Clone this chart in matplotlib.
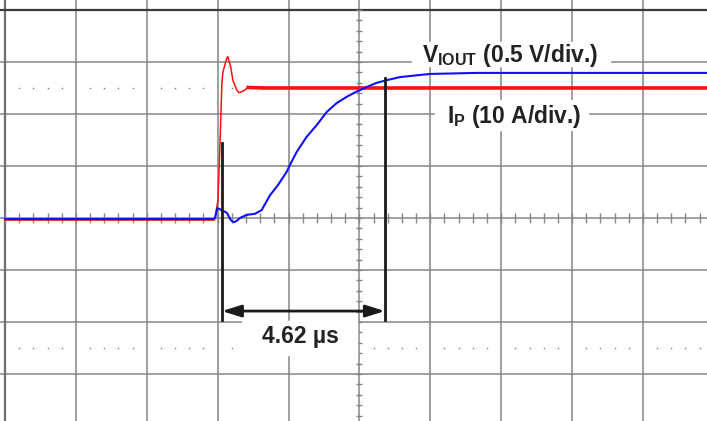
import numpy as np
import matplotlib.pyplot as plt
import matplotlib as mpl
from matplotlib.patches import Rectangle

mpl.rcParams.update({
    "font.family": "Liberation Sans",
    "mathtext.fontset": "custom",
    "mathtext.rm": "Liberation Sans",
    "mathtext.bf": "Liberation Sans:bold",
})

# --- data: time in us (2 us/div), amplitude in divisions ---
red_t = [0.0, 5.90, 5.95, 6.01, 6.07, 6.12, 6.15, 6.26, 6.29, 6.37, 6.43, 6.54,
         6.60, 6.72, 6.86, 7.28, 19.81]
red_y = [-0.04, -0.04, 0.10, 0.35, 1.50, 2.60, 2.81, 3.08, 3.10, 2.90, 2.65, 2.46,
         2.41, 2.44, 2.51, 2.50, 2.50]

blue_t = [0.0, 5.90, 5.93, 5.99, 6.12, 6.26, 6.37, 6.45, 6.53, 6.63, 6.82, 7.05,
          7.24, 7.48, 7.70, 7.95, 8.04, 8.23, 8.51, 8.80, 9.08, 9.36, 9.64, 9.92,
          10.21, 10.49, 10.77, 11.15, 11.99, 13.32, 19.81]
blue_y = [-0.02, -0.02, 0.0, 0.19, 0.15, 0.10, -0.04, -0.08, -0.06, 0.0, 0.06, 0.08,
          0.15, 0.44, 0.63, 0.89, 1.02, 1.27, 1.56, 1.79, 2.04, 2.21, 2.33, 2.43,
          2.52, 2.60, 2.65, 2.71, 2.77, 2.79, 2.79]

cursor_t = [6.12, 10.72]
cursor_top = [1.44, 2.69]
cursor_bottom = -1.96
delta_label = "4.62 µs"
v_label = r"$\mathbf{V_{IOUT}}$ (0.5 V/div.)"
i_label = r"$\mathbf{I_{P}}$ (10 A/div.)"

fig = plt.figure(figsize=(7.07, 4.21), dpi=100)
ax = fig.add_axes([0, 0, 1, 1])
ax.set_xlim(-5 / 35.44, 702 / 35.44)
ax.set_ylim(-3.904, 4.192)
ax.axis("off")

grid = "#858585"
# graticule
for x in np.arange(2, 21, 2):
    ax.axvline(x, color=grid, lw=1.1, zorder=1)
for y in np.arange(-4, 4, 1):
    ax.axhline(y, color=grid, lw=1.1, zorder=1)
ax.axvline(0, color="#6e6e6e", lw=1.6, zorder=1)
ax.axhline(4, color="#3c3c3c", lw=1.6, zorder=1)

# center-axis ticks
minor_x = np.arange(0, 20.01, 0.4)
minor_y = np.arange(-4, 4.01, 0.2)
ax.plot(minor_x, np.zeros_like(minor_x), ls="none", marker="|", ms=6.5,
        mew=1.0, color=grid, zorder=1)
ax.plot(np.full_like(minor_y, 10), minor_y, ls="none", marker="_", ms=5,
        mew=1.0, color=grid, zorder=1)

# dotted reference rows
dots_x = np.array([x for x in minor_x if abs(x / 2 - round(x / 2)) > 1e-6])
for yy in (2.5, -2.5):
    ax.plot(dots_x, np.full_like(dots_x, yy), ls="none", marker="s", ms=1.0,
            mew=0, color="#7a7a7a", zorder=1)

# traces
red_t = np.array(red_t)
red_y = np.array(red_y)
ax.plot(red_t, red_y, color="#ff1010", lw=1.1, zorder=3)
settled = red_t >= 6.86
ax.plot(red_t[settled], red_y[settled], color="#ff1010", lw=2.6, zorder=3)
ax.plot(blue_t, blue_y, color="#1010ff", lw=1.5, zorder=4)

# cursors
for ct, top in zip(cursor_t, cursor_top):
    ax.plot([ct, ct], [cursor_bottom, top], color="#1a1a1a", lw=2.0, zorder=5)
ax.annotate("", xy=(cursor_t[0], -1.79), xytext=(cursor_t[1], -1.79),
            arrowprops=dict(arrowstyle="<|-|>,head_length=1.15,head_width=0.36",
                            mutation_scale=10, color="#1a1a1a", lw=2.0,
                            shrinkA=0, shrinkB=0), zorder=5)

# label boxes
ax.add_patch(Rectangle((6.69, -2.63), 3.24, 0.65, color="white", zorder=2))
ax.add_patch(Rectangle((11.48, 2.92), 5.59, 0.46, color="white", zorder=2))
ax.add_patch(Rectangle((12.13, 1.69), 4.32, 0.58, color="white", zorder=2))

ax.text(7.25, -2.41, delta_label, fontsize=16.5, fontweight="bold",
        color="#222222", va="baseline", ha="left", zorder=6)
ax.text(11.77, 3.006, v_label, fontsize=16.5, fontweight="bold",
        color="#222222", va="baseline", ha="left", zorder=6)
ax.text(12.47, 1.83, i_label, fontsize=16.5, fontweight="bold",
        color="#222222", va="baseline", ha="left", zorder=6)

fig.savefig("out.png", dpi=100)
